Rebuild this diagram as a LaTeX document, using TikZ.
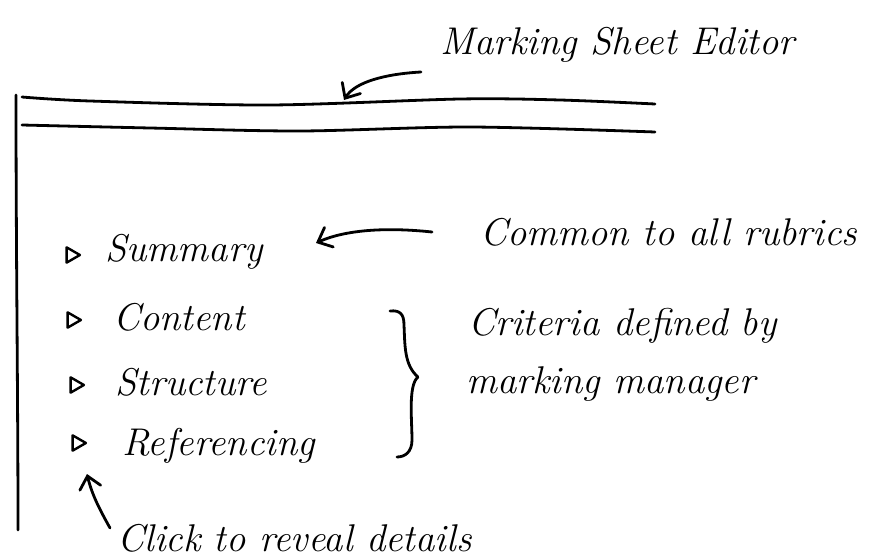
\documentclass[tikz,border=0pt]{standalone}
\usetikzlibrary{arrows.meta,shapes.geometric}
\begin{document}
\begin{tikzpicture}[x=0.75pt,y=-0.75pt,
  pen/.style={line width=2.1pt,line cap=round,line join=round,black},
  hand/.style={font=\fontsize{29}{32}\selectfont\itshape,inner sep=0pt},
  note/.style={hand,anchor=base west},
  item/.style={hand,anchor=base west},
  marker/.style={draw,pen,line width=1.8pt,isosceles triangle,isosceles triangle apex angle=60,
    minimum height=10pt,minimum width=9pt,inner sep=0pt},
  pointer/.style={pen,-{Straight Barb[length=9pt,width=16pt,line cap=round]}}]
\useasboundingbox (0,0) rectangle (869,560);

% window frame: left edge and the title bar
\draw[pen] (16,95) .. controls (16,250) and (18,400) .. (18,530);
\draw[pen] plot[smooth] coordinates {(22,97) (90,101) (270,105) (460,99) (560,100) (655,104)};
\draw[pen] plot[smooth] coordinates {(22,125) (150,128) (300,131) (470,127) (655,132)};

% title annotation
\node[note] (title) at (440,55) {Marking Sheet Editor};
\coordinate (tstart) at (421,72);
\coordinate (tend) at (344,100);
\draw[pointer] (tstart) .. controls (385,74) and (355,82) .. (tend);

% collapsible sections
\node[marker] (m1) at (71,255) {};
\node[item] (sum) at (105,262) {Summary};
\node[marker] (m2) at (72,320) {};
\node[item] (con) at (113,330) {Content};
\node[marker] (m3) at (75,385) {};
\node[item] (str) at (115,395) {Structure};
\node[marker] (m4) at (77,443) {};
\node[item] (ref) at (122,455) {Referencing};

% note on the summary section
\node[note] (common) at (480,245) {Common to all rubrics};
\coordinate (cstart) at (432,232);
\coordinate (cend) at (316,243);
\draw[pointer] (cstart) .. controls (385,227) and (345,230) .. (cend);

% brace over the criteria
\coordinate (btop) at (390,311);
\coordinate (bbot) at (397,457);
\draw[pen] (btop) .. controls (400,310) and (404,314) .. (404,325)
  .. controls (405,345) and (404,365) .. (418,377)
  .. controls (408,385) and (412,420) .. (412,440)
  .. controls (412,452) and (405,457) .. (bbot);
\node[note] (crit1) at (468,335) {Criteria defined by};
\node[note] (crit2) at (466,393) {marking manager};

% note on the markers
\node[note] (click) at (117,551) {Click to reveal details};
\coordinate (kstart) at (110,528);
\draw[pointer] (kstart) .. controls (100,510) and (92,495) .. (87,474);
\end{tikzpicture}
\end{document}
